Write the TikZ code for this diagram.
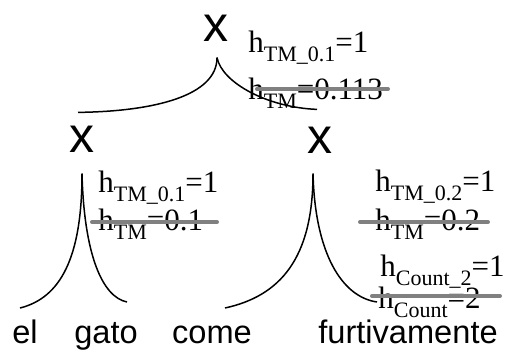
\documentclass[tikz,border=0pt]{standalone}
\usepackage{fontspec}
\setmainfont{Liberation Serif}
\setsansfont{Liberation Sans}
\newcommand{\sbs}[1]{\raisebox{-4.5pt}{\fontsize{11}{12}\selectfont #1}}

\begin{document}
\begin{tikzpicture}[x=0.5pt, y=-0.5pt,
    cat/.style={font=\sffamily\fontsize{25}{28}\selectfont, inner sep=0pt},
    word/.style={font=\sffamily\fontsize{16.3}{19}\selectfont, inner sep=0pt, anchor=base},
    lbl/.style={font=\fontsize{15.5}{18}\selectfont, inner sep=0pt, anchor=base west},
    strike/.style={gray, line width=2pt, line cap=round},
    branch/.style={black, line width=0.75pt}]
        % Pixel grid of the sketch: x to the right, y downwards.
        \useasboundingbox (0,0) rectangle (506,351);

        % ── Category nodes ───────────────────────────────────────────────
        \node[cat] (topx) at (216,28) {x};
        \node[cat] (lx)   at (82,139) {x};
        \node[cat] (rx)   at (320,140) {x};

        % ── Words ────────────────────────────────────────────────────────
        \node[word] (el)    at (25,343)  {el};
        \node[word] (gato)  at (106,343) {gato};
        \node[word] (come)  at (212,343) {come};
        \node[word] (furti) at (408,343) {furtivamente};

        % ── Feet of the branches ─────────────────────────────────────────
        \coordinate (topfoot) at ([xshift=0.5pt, yshift=-8pt]topx.south);
        \coordinate (lfoot)   at ([yshift=-10.5pt]lx.south);
        \coordinate (rfoot)   at ([xshift=-3.5pt, yshift=-10pt]rx.south);
        \coordinate (ltop)    at ([xshift=-2pt, yshift=6.5pt]lx.north);
        \coordinate (rtop)    at ([xshift=-1.5pt, yshift=8.5pt]rx.north);
        \coordinate (elend)   at (20,308);
        \coordinate (gatoend) at (127,302);
        \coordinate (comeend) at (225,308);
        \coordinate (furtend) at (377,302);

        % ── Branches ─────────────────────────────────────────────────────
        \draw[branch] (topfoot) .. controls +(0,38) and +(77,-1) .. (ltop);
        \draw[branch] (topfoot) .. controls +(5,25) and +(-50,-2) .. (rtop);
        \draw[branch] (lfoot) .. controls +(0,85) and +(40,-10) .. (elend);
        \draw[branch] (lfoot) .. controls +(2,80) and +(-25,-5) .. (gatoend);
        \draw[branch] (rfoot) .. controls +(0,85) and +(55,-12) .. (comeend);
        \draw[branch] (rfoot) .. controls +(2,80) and +(-35,-5) .. (furtend);

        % ── Top label (0.113 struck out) ─────────────────────────────────
        \node[lbl] (top1) at (248,53)  {h\sbs{TM\_0.1}=1};
        \node[lbl] (top2) at (248,100) {h\sbs{TM}=0.113};
        \draw[strike] (257,89) -- (388,89);

        % ── Left label (0.1 struck out) ──────────────────────────────────
        \node[lbl] (lft1) at (98,193) {h\sbs{TM\_0.1}=1};
        \node[lbl] (lft2) at (98,231) {h\sbs{TM}=0.1};
        \draw[strike] (92,222) -- (217,222);

        % ── Right label (0.2 struck out) ─────────────────────────────────
        \node[lbl] (rgt1) at (375,192) {h\sbs{TM\_0.2}=1};
        \node[lbl] (rgt2) at (375,231) {h\sbs{TM}=0.2};
        \draw[strike] (360,222) -- (488,222);

        % ── Count label (2 struck out) ───────────────────────────────────
        \node[lbl] (cnt1) at (380,276) {h\sbs{Count\_2}=1};
        \node[lbl] (cnt2) at (378,308) {h\sbs{Count}=2};
        \draw[strike] (372,296) -- (500,296);
      \end{tikzpicture}
\end{document}
